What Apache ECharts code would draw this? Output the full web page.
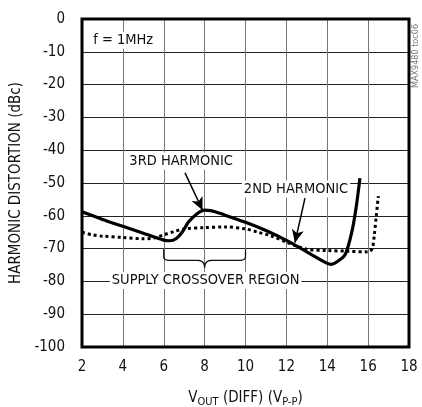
<!DOCTYPE html>
<html><head><meta charset="utf-8">
<script src="https://cdn.jsdelivr.net/npm/echarts@6/dist/echarts.min.js"></script>
<style>html,body{margin:0;padding:0;background:#fff}#c{width:422px;height:407px}</style>
</head><body><div id="c"></div>
<script>
var FONT = "'DejaVu Sans Condensed','DejaVu Sans',sans-serif";
// Data
var harm3X = [2, 3, 4, 5, 5.5, 6, 6.3, 6.6, 6.9, 7.2, 7.6, 8, 8.3, 9, 10, 11, 12, 13, 14, 14.2, 14.6, 14.9, 15.2, 15.4, 15.6];
var harm3Y = [-58.8, -61.1, -63.2, -65.3, -66.4, -67.4, -67.6, -67, -65, -62, -59.5, -58.3, -58.4, -59.8, -62, -64.5, -67.5, -71, -74.5, -74.8, -73.5, -71.5, -65, -58, -48.5];
var harm2X = [2, 2.5, 3, 4, 5, 5.5, 6, 6.5, 7, 8, 9, 10, 10.6, 11.2, 12, 12.4, 13, 14, 15, 16, 16.2, 16.3, 16.4, 16.5];
var harm2Y = [-65, -65.8, -66.2, -66.6, -67, -66.8, -65.8, -64.8, -64, -63.6, -63.4, -64, -65, -66, -68, -69, -70.2, -70.6, -70.8, -71, -70, -66, -60, -54];
var xTicks = [2, 4, 6, 8, 10, 12, 14, 16, 18];
var yTicks = [0, -10, -20, -30, -40, -50, -60, -70, -80, -90, -100];

function pairs(xs, ys){ return xs.map(function(x,i){return [x, ys[i]];}); }

var chart = echarts.init(document.getElementById('c'), null, {renderer:'canvas'});
chart.setOption({
  animation:false,
  backgroundColor:'#fff',
  grid:{left:82, right:13, top:19, bottom:60, containLabel:false, outerBoundsMode:'none',
    show:true, borderColor:'#000', borderWidth:3, z:10},
  xAxis:{type:'value', min:xTicks[0], max:xTicks[xTicks.length-1], interval:2,
    axisLine:{show:false}, axisTick:{show:false},
    axisLabel:{margin:13, color:'#111', fontFamily:FONT, fontSize:15},
    splitLine:{show:true, lineStyle:{color:'#777', width:1}},
    name:'{v|V}{s|OUT} (DIFF) ({v|V}{s|P-P})', nameLocation:'middle', nameGap:42,
    nameTextStyle:{color:'#111', fontFamily:FONT, fontSize:15,
      rich:{v:{fontFamily:FONT, fontSize:15, color:'#111'}, s:{fontFamily:FONT, fontSize:11, color:'#111', padding:[8,0,0,0]}}}
  },
  yAxis:{type:'value', min:yTicks[yTicks.length-1], max:yTicks[0], interval:10,
    axisLine:{show:false}, axisTick:{show:false},
    axisLabel:{margin:17, color:'#111', fontFamily:FONT, fontSize:15},
    splitLine:{show:true, lineStyle:{color:'#222', width:1}},
    name:'HARMONIC DISTORTION (dBc)', nameLocation:'middle', nameGap:51,
    nameTextStyle:{color:'#111', fontFamily:FONT, fontSize:15}
  },
  series:[
    {type:'line', name:'3RD HARMONIC', data:pairs(harm3X, harm3Y), smooth:0.3, showSymbol:false,
      lineStyle:{color:'#000', width:3.2}, z:5,
      markLine:{silent:true, symbol:['none','arrow'], symbolSize:[9,13], label:{show:false},
        lineStyle:{color:'#000', width:1.5, type:'solid'},
        data:[[{coord:[7.04,-46.9]},{coord:[7.9,-58.3]}],[{coord:[12.91,-54.6]},{coord:[12.42,-68.2]}]]}
    },
    {type:'line', name:'2ND HARMONIC', data:pairs(harm2X, harm2Y), smooth:0.3, showSymbol:false,
      lineStyle:{color:'#000', width:3, type:[3,3]}, z:4}
  ]
});

function P(x,y){ return chart.convertToPixel({gridIndex:0},[x,y]); }
function txt(str, x, y, align){
  var p = P(x,y);
  return {type:'text', x:p[0], y:p[1], z:20,
    style:{text:str, fill:'#111', font:'14.5px '+FONT, align:align||'center', verticalAlign:'middle',
      backgroundColor:'#fff', padding:[1,2,1,2]}};
}
// curly brace sampled as a polyline (data coordinates -> pixels)
function quad(p0, c, p1, out){
  for (var t=0; t<=1.0001; t+=0.1){
    var u=1-t;
    out.push([u*u*p0[0]+2*u*t*c[0]+t*t*p1[0], u*u*p0[1]+2*u*t*c[1]+t*t*p1[1]]);
  }
}
var bL=6, bR=10, bM=8, yTop=-70.2, yMid=-73.6, yTip=-75.9, dx=0.35, dy=1.1;
var pts=[P(bL,yTop)];
quad(P(bL,yMid+dy), P(bL,yMid), P(bL+dx,yMid), pts);
quad(P(bM-dx,yMid), P(bM,yMid), P(bM,yTip), pts);
quad(P(bM,yTip), P(bM,yMid), P(bM+dx,yMid), pts);
quad(P(bR-dx,yMid), P(bR,yMid), P(bR,yMid+dy), pts);
pts.push(P(bR,yTop));

chart.setOption({graphic:[
  {type:'polyline', z:15, shape:{points:pts}, style:{fill:null, stroke:'#111', lineWidth:1.3}},
  txt('f = 1MHz', 2.45, -6.5, 'left'),
  txt('3RD HARMONIC', 6.85, -43.3),
  txt('2ND HARMONIC', 12.47, -51.8),
  txt('SUPPLY CROSSOVER REGION', 8.05, -79.7),
  {type:'text', x:416, y:56, rotation:Math.PI/2, z:20,
    style:{text:'MAX9480 toc06', fill:'#777', font:'9px '+FONT, align:'center', verticalAlign:'middle'}}
]});
</script></body></html>
